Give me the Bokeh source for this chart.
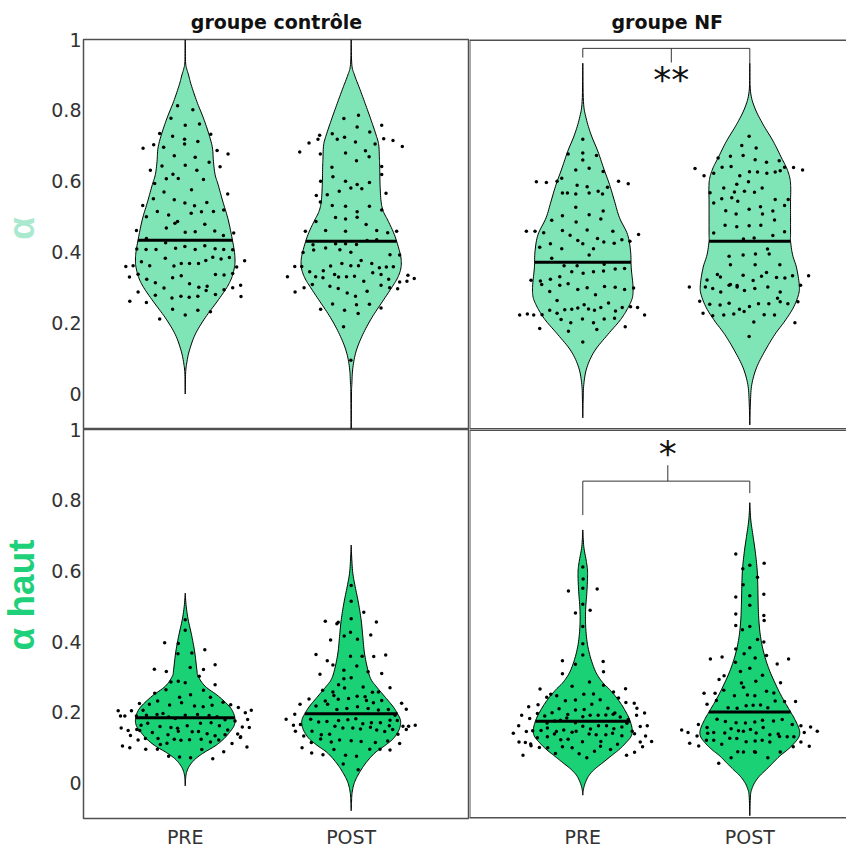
import numpy as np
from bokeh.plotting import figure
from bokeh.layouts import column, row
from bokeh.models import FixedTicker, Label, Span
from bokeh.core.properties import value
from bokeh.embed import file_html
from bokeh.resources import INLINE

# ---------------- data ----------------
groups = ["PRE", "POST"]
group_pos = [1, 2]
panel_titles = ["groupe contrôle", "groupe NF"]
row_labels = ["α", "α haut"]
y_ticks = [0, 0.2, 0.4, 0.6, 0.8, 1]
y_tick_labels = ["0", "0.2", "0.4", "0.6", "0.8", "1"]

# violin outlines: levels (descending) and half widths (x units)
ctrl_a_pre_lv = [0.999,0.938,0.919,0.900,0.872,0.825,0.778,0.731,0.694,0.656,0.619,0.591,0.544,0.497,0.450,0.403,0.375,0.356,0.328,0.300,0.262,0.215,0.168,0.121,0.084,0.055,0.0]
ctrl_a_pre_hw = [0,0.002,0.008,0.02,0.036,0.07,0.11,0.144,0.164,0.17,0.18,0.198,0.226,0.256,0.278,0.296,0.30,0.296,0.28,0.25,0.194,0.12,0.06,0.024,0.008,0.002,0]
ctrl_a_post_lv = [0.999,0.929,0.900,0.863,0.825,0.778,0.731,0.703,0.666,0.638,0.591,0.544,0.515,0.487,0.450,0.412,0.384,0.356,0.328,0.300,0.262,0.215,0.168,0.121,0.074,0.027,0.0,-0.12]
ctrl_a_post_hw = [0,0.004,0.02,0.05,0.08,0.116,0.15,0.166,0.17,0.172,0.174,0.18,0.194,0.224,0.26,0.286,0.30,0.30,0.28,0.244,0.19,0.124,0.07,0.03,0.01,0.004,0.002,0]
nf_a_pre_lv = [0.933,0.825,0.778,0.731,0.685,0.638,0.591,0.544,0.497,0.450,0.403,0.356,0.309,0.281,0.262,0.234,0.206,0.168,0.121,0.074,0.027,-0.020,-0.067]
nf_a_pre_hw = [0,0.004,0.02,0.05,0.09,0.124,0.16,0.19,0.22,0.268,0.286,0.29,0.30,0.30,0.29,0.26,0.22,0.15,0.07,0.024,0.006,0.002,0]
nf_a_post_lv = [0.933,0.854,0.807,0.760,0.713,0.666,0.638,0.609,0.581,0.544,0.497,0.450,0.431,0.393,0.356,0.309,0.281,0.243,0.206,0.168,0.121,0.074,0.027,-0.020,-0.087]
nf_a_post_hw = [0,0.004,0.03,0.08,0.14,0.19,0.22,0.24,0.245,0.244,0.244,0.244,0.244,0.256,0.28,0.296,0.292,0.26,0.21,0.15,0.09,0.04,0.012,0.004,0]
ctrl_h_pre_lv = [0.537,0.500,0.462,0.415,0.368,0.321,0.302,0.274,0.246,0.218,0.199,0.180,0.162,0.143,0.124,0.105,0.086,0.068,0.049,0.030,0.011,-0.008]
ctrl_h_pre_hw = [0,0.006,0.018,0.04,0.058,0.07,0.078,0.12,0.2,0.264,0.29,0.30,0.294,0.266,0.23,0.18,0.112,0.06,0.026,0.008,0.002,0]
ctrl_h_post_lv = [0.673,0.631,0.593,0.556,0.509,0.462,0.415,0.368,0.321,0.293,0.274,0.246,0.218,0.199,0.180,0.162,0.143,0.124,0.105,0.086,0.058,0.030,0.002,-0.026,-0.054,-0.078]
ctrl_h_post_hw = [0,0.004,0.01,0.024,0.044,0.06,0.07,0.08,0.1,0.12,0.15,0.2,0.25,0.276,0.296,0.296,0.28,0.25,0.2,0.144,0.09,0.05,0.02,0.006,0.002,0]
nf_h_pre_lv = [0.716,0.669,0.631,0.603,0.575,0.537,0.500,0.462,0.424,0.387,0.349,0.312,0.284,0.265,0.237,0.208,0.180,0.152,0.133,0.115,0.096,0.077,0.058,0.039,0.021,0.002,-0.017,-0.034]
nf_h_pre_hw = [0,0.006,0.02,0.028,0.028,0.024,0.018,0.016,0.02,0.03,0.05,0.08,0.12,0.16,0.21,0.25,0.28,0.296,0.29,0.26,0.22,0.17,0.12,0.07,0.036,0.016,0.004,0]
nf_h_post_lv = [0.793,0.744,0.697,0.650,0.603,0.556,0.509,0.462,0.415,0.368,0.321,0.274,0.237,0.208,0.180,0.152,0.133,0.115,0.096,0.077,0.058,0.039,0.021,0.002,-0.017,-0.036,-0.092]
nf_h_post_hw = [0,0.006,0.02,0.034,0.044,0.048,0.05,0.054,0.064,0.084,0.116,0.16,0.2,0.236,0.27,0.296,0.296,0.27,0.23,0.18,0.14,0.1,0.06,0.03,0.012,0.004,0]

# medians
ctrl_a_med = [0.434, 0.431]
nf_a_med = [0.372, 0.431]
ctrl_h_med = [0.185, 0.196]
nf_h_med = [0.175, 0.201]

# individual points: (horizontal jitter, value)
ctrl_a_pre_pts = [(-0.046,0.813),(0.046,0.802),(-0.086,0.778),(0,0.758),(0.086,0.762),(-0.154,0.735),(-0.076,0.727),(0.154,0.733),(-0.004,0.719),(-0.004,0.705),(0.076,0.712),(-0.19,0.703),(-0.254,0.693),(-0.13,0.696),(0.192,0.687),(0.258,0.677),(-0.066,0.672),(0.06,0.668),(0.144,0.654),(-0.21,0.631),(-0.14,0.643),(0,0.645),(0.07,0.631),(0.21,0.641),(-0.074,0.62),(-0.042,0.608),(-0.114,0.607),(0.11,0.605),(-0.184,0.594),(0.038,0.576),(-0.128,0.57),(0.256,0.564),(-0.192,0.551),(-0.066,0.548),(-0.002,0.539),(0.13,0.54),(-0.256,0.532),(0.056,0.531),(0.036,0.51),(0.098,0.514),(0.17,0.515),(-0.168,0.515),(-0.1,0.505),(-0.046,0.487),(-0.062,0.482),(-0.234,0.5),(0.118,0.479),(0.232,0.519),(-0.114,0.468),(0,0.456),(0.06,0.458),(0.178,0.46),(-0.294,0.461),(0.292,0.454),(0.23,0.447),(-0.234,0.439),(-0.118,0.427),(-0.292,0.409),(-0.236,0.408),(-0.176,0.408),(-0.058,0.411),(-0.002,0.416),(0.06,0.408),(0.118,0.418),(0.18,0.41),(0.232,0.408),(0.286,0.407),(-0.264,0.373),(-0.214,0.362),(-0.12,0.383),(-0.068,0.361),(-0.024,0.368),(0.026,0.368),(0.08,0.368),(0.124,0.377),(0.166,0.386),(0.216,0.381),(0.266,0.385),(0.358,0.376),(-0.358,0.36),(-0.314,0.362),(-0.284,0.338),(-0.232,0.324),(-0.18,0.314),(-0.128,0.299),(-0.076,0.328),(-0.024,0.334),(0.026,0.311),(0.082,0.301),(0.132,0.304),(0.182,0.337),(0.234,0.336),(0.286,0.34),(0.31,0.358),(-0.336,0.33),(-0.284,0.288),(-0.18,0.279),(-0.08,0.271),(-0.026,0.276),(0.024,0.273),(0.076,0.276),(0.126,0.292),(0.182,0.281),(0.234,0.294),(0.334,0.307),(-0.334,0.262),(-0.234,0.258),(-0.076,0.239),(0,0.223),(0.076,0.236),(0.152,0.232),(-0.154,0.212),(0.336,0.275),(0.286,0.3)]
ctrl_a_post_pts = [(-0.044,0.777),(0.044,0.786),(0.036,0.753),(0.112,0.739),(0.184,0.758),(-0.19,0.73),(-0.114,0.734),(-0.04,0.724),(-0.084,0.719),(0.026,0.711),(0.144,0.705),(0.196,0.72),(0.252,0.715),(0.308,0.698),(-0.254,0.708),(-0.2,0.719),(-0.186,0.677),(-0.034,0.68),(0.086,0.686),(0.108,0.669),(-0.31,0.683),(0.032,0.658),(-0.116,0.64),(0.184,0.642),(0.184,0.619),(-0.11,0.613),(-0.034,0.6),(0.036,0.591),(0.11,0.597),(0.064,0.579),(-0.002,0.581),(-0.184,0.6),(-0.072,0.572),(-0.144,0.562),(-0.21,0.56),(0.21,0.566),(-0.186,0.542),(-0.114,0.532),(-0.034,0.53),(0.11,0.53),(0.184,0.519),(-0.094,0.498),(-0.034,0.494),(0.036,0.514),(0.036,0.499),(-0.212,0.487),(-0.276,0.459),(-0.154,0.461),(-0.034,0.459),(0.09,0.478),(0.154,0.461),(0.22,0.455),(0.274,0.459),(-0.23,0.421),(-0.154,0.412),(-0.094,0.424),(-0.034,0.424),(0.032,0.422),(0.096,0.433),(0.154,0.435),(-0.002,0.4),(-0.29,0.399),(-0.226,0.406),(-0.068,0.407),(0.234,0.393),(0.292,0.392),(-0.34,0.36),(-0.298,0.36),(-0.25,0.345),(-0.168,0.348),(-0.124,0.361),(-0.056,0.368),(-0.002,0.362),(0.044,0.362),(0.06,0.377),(0.124,0.368),(0.17,0.356),(0.212,0.358),(0.254,0.359),(-0.384,0.331),(-0.214,0.331),(-0.17,0.328),(-0.1,0.337),(-0.076,0.33),(-0.028,0.331),(0.02,0.332),(0.076,0.318),(0.13,0.342),(0.18,0.337),(0.226,0.324),(0.292,0.316),(0.336,0.318),(0.342,0.335),(0.38,0.326),(-0.284,0.3),(-0.234,0.309),(-0.128,0.304),(-0.078,0.298),(-0.024,0.285),(0.026,0.276),(0.096,0.29),(0.18,0.307),(0.232,0.3),(0.28,0.297),(-0.338,0.288),(-0.112,0.254),(0.032,0.252),(0.11,0.253),(-0.184,0.239),(-0.04,0.236),(0.042,0.227),(0.18,0.243),(-0.046,0.19),(-0.002,0.095)]
nf_a_pre_pts = [(0,0.719),(-0.088,0.677),(0,0.68),(0.082,0.673),(-0.042,0.632),(0.038,0.637),(0.122,0.628),(0,0.66),(-0.278,0.599),(-0.218,0.597),(-0.154,0.6),(-0.126,0.609),(0.214,0.6),(0.272,0.593),(-0.122,0.567),(-0.092,0.567),(-0.034,0.589),(0.026,0.585),(-0.042,0.564),(0.038,0.567),(0.092,0.572),(0.118,0.564),(0.148,0.583),(-0.042,0.527),(-0.186,0.49),(-0.122,0.503),(0.038,0.506),(0.122,0.516),(0.108,0.494),(-0.04,0.485),(-0.338,0.459),(-0.286,0.459),(-0.234,0.455),(-0.122,0.461),(-0.076,0.448),(0.026,0.463),(0.088,0.439),(0.18,0.459),(0.334,0.45),(0.282,0.431),(-0.258,0.414),(-0.194,0.424),(-0.126,0.41),(-0.03,0.433),(0,0.424),(0.064,0.41),(0.126,0.429),(0.188,0.425),(0.234,0.435),(-0.186,0.383),(-0.112,0.362),(-0.034,0.362),(0.038,0.392),(0.128,0.366),(0.194,0.353),(-0.31,0.321),(-0.254,0.319),(-0.194,0.324),(-0.138,0.331),(-0.066,0.345),(0.002,0.341),(0.064,0.345),(0.124,0.347),(0.25,0.354),(0.304,0.299),(-0.246,0.309),(-0.138,0.307),(-0.088,0.311),(-0.03,0.295),(0.026,0.3),(0.076,0.28),(0.13,0.303),(0.194,0.301),(0.25,0.295),(-0.198,0.289),(-0.154,0.264),(-0.108,0.238),(-0.066,0.239),(-0.03,0.243),(0.008,0.252),(0.034,0.24),(0.07,0.236),(0.108,0.244),(0.154,0.257),(0.196,0.234),(0.236,0.244),(0.286,0.246),(0.328,0.244),(0.37,0.223),(-0.378,0.223),(-0.332,0.226),(-0.294,0.223),(-0.244,0.224),(-0.198,0.236),(-0.154,0.228),(-0.13,0.21),(-0.072,0.201),(-0.002,0.212),(0.064,0.201),(0.128,0.212),(0.19,0.214),(-0.258,0.185),(-0.086,0.177),(0.084,0.182),(0.254,0.19),(0,0.147)]
nf_a_post_pts = [(-0.004,0.727),(-0.048,0.701),(0.038,0.694),(-0.04,0.673),(-0.116,0.671),(-0.19,0.666),(0.032,0.661),(0.1,0.654),(0.176,0.658),(0.182,0.63),(-0.328,0.636),(-0.274,0.616),(-0.216,0.623),(-0.166,0.64),(-0.112,0.642),(-0.06,0.616),(-0.002,0.627),(0.046,0.626),(0.102,0.623),(0.152,0.626),(0.208,0.64),(0.262,0.639),(0.316,0.632),(-0.078,0.592),(-0.008,0.599),(-0.156,0.581),(-0.238,0.568),(-0.092,0.57),(-0.032,0.572),(0.028,0.569),(0.074,0.581),(0.152,0.549),(0.23,0.549),(-0.216,0.539),(-0.168,0.551),(-0.108,0.554),(-0.072,0.544),(-0.004,0.521),(0.064,0.528),(0.138,0.516),(0.208,0.532),(-0.144,0.517),(-0.082,0.508),(0.076,0.508),(0.148,0.491),(-0.148,0.476),(-0.078,0.472),(-0.004,0.475),(0.066,0.476),(-0.216,0.454),(0.208,0.458),(-0.038,0.437),(0.026,0.44),(0.138,0.447),(0.106,0.409),(0.116,0.395),(-0.124,0.389),(-0.04,0.392),(0.034,0.395),(-0.116,0.365),(0.032,0.365),(0.18,0.365),(-0.256,0.322),(-0.194,0.337),(-0.176,0.33),(-0.116,0.309),(-0.076,0.302),(-0.04,0.335),(0.02,0.32),(0.07,0.332),(0.1,0.343),(0.16,0.329),(0.21,0.327),(0.256,0.334),(0.352,0.334),(-0.362,0.302),(-0.266,0.302),(-0.222,0.298),(-0.174,0.288),(-0.124,0.307),(-0.076,0.306),(-0.032,0.292),(0.03,0.298),(0.108,0.302),(0.182,0.288),(0.304,0.307),(-0.3,0.262),(-0.24,0.253),(-0.178,0.251),(-0.124,0.256),(-0.062,0.239),(-0.034,0.233),(-0.002,0.247),(0.052,0.255),(0.114,0.255),(0.166,0.27),(0.182,0.26),(0.228,0.255),(0.288,0.26),(-0.28,0.228),(-0.222,0.221),(-0.156,0.223),(-0.096,0.226),(0.024,0.203),(0.086,0.224),(0.148,0.223),(0.27,0.201),(-0.004,0.162)]
ctrl_h_pre_pts = [(0,0.462),(0,0.432),(-0.124,0.397),(-0.042,0.395),(0.118,0.377),(-0.044,0.366),(0.04,0.368),(0.18,0.335),(-0.186,0.322),(-0.114,0.316),(0.03,0.327),(0.11,0.321),(-0.042,0.288),(-0.086,0.286),(0,0.284),(0.084,0.302),(0.18,0.278),(-0.184,0.254),(-0.116,0.264),(-0.034,0.243),(0.032,0.25),(0.11,0.263),(0.152,0.243),(-0.216,0.223),(-0.166,0.232),(-0.276,0.225),(-0.254,0.206),(-0.094,0.221),(-0.022,0.227),(0.056,0.218),(0.108,0.216),(0.162,0.22),(0.228,0.229),(0.274,0.222),(0.32,0.214),(0.362,0.199),(0.398,0.206),(-0.404,0.205),(-0.324,0.205),(-0.294,0.19),(-0.39,0.19),(-0.364,0.19),(-0.234,0.192),(-0.17,0.194),(-0.134,0.197),(-0.1,0.187),(-0.06,0.183),(0,0.192),(0.074,0.194),(0.144,0.191),(0.192,0.188),(0.24,0.179),(0.3,0.176),(0.376,0.18),(-0.386,0.156),(-0.344,0.149),(-0.292,0.152),(-0.266,0.164),(-0.226,0.169),(-0.152,0.16),(-0.086,0.157),(-0.046,0.155),(0.012,0.162),(0.092,0.169),(0.156,0.171),(0.206,0.162),(0.256,0.15),(0.344,0.159),(0.386,0.157),(-0.284,0.122),(-0.24,0.126),(-0.198,0.143),(-0.164,0.126),(-0.104,0.137),(-0.042,0.147),(0.042,0.145),(0.08,0.146),(0.132,0.14),(0.18,0.134),(0.24,0.137),(0.316,0.139),(0.332,0.129),(-0.33,0.135),(-0.274,0.149),(-0.15,0.109),(-0.11,0.113),(-0.066,0.124),(-0.026,0.121),(0.026,0.123),(0.096,0.124),(0.152,0.116),(0.202,0.122),(0.282,0.112),(0.334,0.131),(-0.378,0.105),(-0.334,0.1),(-0.238,0.096),(-0.168,0.096),(-0.1,0.076),(-0.034,0.074),(0.032,0.072),(0.1,0.095),(0.166,0.069),(0.232,0.089),(0.372,0.102)]
ctrl_h_post_pts = [(0,0.559),(0,0.514),(0,0.465),(-0.042,0.416),(0.038,0.407),(-0.004,0.427),(-0.078,0.455),(-0.156,0.458),(-0.086,0.451),(0.076,0.483),(0.152,0.456),(-0.124,0.405),(0.118,0.419),(-0.212,0.364),(-0.004,0.359),(0.066,0.359),(-0.144,0.346),(0.136,0.358),(0.208,0.362),(-0.044,0.319),(0.034,0.331),(-0.11,0.334),(-0.188,0.308),(0.102,0.315),(0.184,0.31),(-0.044,0.295),(0,0.298),(-0.076,0.278),(-0.04,0.269),(0.072,0.272),(-0.11,0.258),(-0.172,0.263),(0.036,0.246),(0.084,0.244),(0.128,0.257),(0.164,0.258),(0.234,0.27),(0.134,0.227),(0.184,0.234),(0.092,0.234),(-0.156,0.232),(-0.104,0.248),(-0.078,0.237),(-0.016,0.239),(-0.254,0.238),(-0.308,0.223),(0.304,0.226),(0.332,0.209),(-0.34,0.195),(-0.212,0.218),(-0.142,0.223),(-0.086,0.208),(-0.026,0.211),(0.038,0.216),(0.102,0.211),(0.164,0.207),(0.224,0.208),(0.264,0.192),(-0.392,0.181),(-0.348,0.164),(-0.306,0.166),(-0.244,0.181),(-0.196,0.173),(-0.146,0.174),(-0.076,0.177),(-0.02,0.179),(0.028,0.182),(0.07,0.168),(0.122,0.171),(0.176,0.171),(0.234,0.178),(0.278,0.177),(0.312,0.161),(0.346,0.161),(0.386,0.164),(-0.336,0.147),(-0.286,0.133),(-0.236,0.147),(-0.18,0.137),(-0.13,0.138),(-0.098,0.161),(-0.05,0.156),(0.01,0.156),(0.056,0.153),(0.116,0.158),(0.154,0.15),(0.202,0.146),(0.25,0.152),(0.282,0.138),(0.332,0.152),(0.23,0.162),(-0.24,0.115),(-0.184,0.125),(-0.12,0.116),(-0.07,0.122),(0,0.12),(0.06,0.118),(0.146,0.115),(0.22,0.119),(0.292,0.112),(-0.296,0.1),(-0.238,0.085),(-0.104,0.095),(-0.034,0.079),(0.032,0.076),(0.112,0.096),(0.174,0.096),(0.234,0.094),(-0.17,0.08),(-0.048,0.054),(0.042,0.038)]
nf_h_pre_pts = [(0,0.611),(0.002,0.577),(0,0.551),(-0.086,0.543),(0.086,0.549),(0,0.506),(-0.044,0.481),(0.044,0.489),(0,0.443),(0,0.394),(0,0.362),(-0.122,0.346),(0.122,0.344),(-0.044,0.336),(-0.122,0.309),(0.124,0.315),(0.04,0.286),(-0.064,0.274),(-0.256,0.266),(-0.192,0.251),(-0.216,0.243),(-0.156,0.247),(-0.104,0.233),(-0.044,0.235),(0.006,0.251),(0.064,0.252),(0.124,0.277),(0.184,0.258),(0.214,0.241),(0.256,0.267),(0.308,0.226),(-0.324,0.216),(-0.268,0.222),(-0.228,0.19),(-0.184,0.199),(-0.142,0.21),(-0.09,0.194),(-0.044,0.207),(0.008,0.208),(0.054,0.223),(0.104,0.236),(0.15,0.212),(0.192,0.198),(0.258,0.228),(0.324,0.212),(0.37,0.198),(-0.366,0.192),(-0.318,0.183),(-0.272,0.197),(-0.214,0.17),(-0.168,0.176),(-0.134,0.178),(-0.096,0.184),(-0.044,0.171),(0,0.188),(0.044,0.192),(0.092,0.192),(0.138,0.193),(0.182,0.195),(0.224,0.187),(0.272,0.18),(0.322,0.192),(-0.384,0.162),(-0.338,0.146),(-0.3,0.148),(-0.25,0.149),(-0.212,0.156),(-0.158,0.146),(-0.114,0.15),(-0.064,0.144),(0,0.161),(0.046,0.153),(0.094,0.162),(0.142,0.162),(0.186,0.154),(0.234,0.159),(0.264,0.169),(0.296,0.147),(0.344,0.16),(0.386,0.162),(-0.416,0.141),(-0.382,0.116),(-0.344,0.115),(-0.312,0.111),(-0.272,0.128),(-0.212,0.131),(-0.17,0.139),(-0.132,0.123),(-0.088,0.124),(-0.04,0.147),(-0.002,0.117),(0.038,0.139),(0.08,0.137),(0.108,0.118),(0.138,0.137),(0.178,0.141),(0.234,0.134),(0.31,0.14),(0.344,0.116),(0.376,0.133),(0.412,0.118),(-0.358,0.079),(-0.31,0.106),(-0.26,0.101),(-0.21,0.1),(-0.164,0.084),(-0.122,0.103),(-0.064,0.1),(-0.022,0.083),(0.024,0.072),(0.07,0.09),(0.106,0.104),(0.166,0.095),(0.208,0.11),(0.262,0.079),(0.31,0.087),(0.358,0.103)]
nf_h_post_pts = [(-0.084,0.648),(0,0.616),(0.046,0.582),(0.086,0.622),(-0.042,0.606),(-0.04,0.561),(-0.084,0.526),(0,0.53),(0,0.503),(0.084,0.534),(0.084,0.474),(0.086,0.46),(-0.084,0.478),(-0.084,0.446),(-0.044,0.434),(0,0.443),(0.046,0.406),(0.084,0.399),(-0.084,0.379),(-0.034,0.366),(0,0.383),(0.032,0.354),(0.1,0.361),(-0.236,0.351),(-0.166,0.357),(0.232,0.351),(0.164,0.337),(-0.086,0.342),(0,0.325),(-0.056,0.316),(0.076,0.305),(-0.154,0.304),(-0.184,0.293),(-0.05,0.283),(0.036,0.288),(0.184,0.284),(-0.156,0.263),(-0.038,0.271),(-0.274,0.254),(-0.208,0.254),(-0.092,0.247),(-0.014,0.249),(0.03,0.247),(0.1,0.26),(0.144,0.255),(0.208,0.231),(0.274,0.231),(-0.256,0.223),(-0.2,0.234),(-0.13,0.213),(-0.076,0.212),(-0.022,0.219),(0.02,0.22),(0.064,0.221),(0.108,0.213),(0.152,0.232),(-0.308,0.166),(-0.256,0.157),(-0.196,0.181),(-0.146,0.174),(-0.082,0.171),(-0.026,0.17),(0.03,0.173),(0.076,0.178),(0.142,0.176),(0.194,0.18),(0.254,0.166),(0.306,0.162),(0.364,0.159),(-0.408,0.15),(-0.37,0.143),(-0.316,0.133),(-0.252,0.141),(-0.216,0.143),(-0.15,0.142),(-0.112,0.154),(-0.068,0.148),(-0.038,0.147),(0.004,0.152),(0.038,0.142),(0.08,0.157),(0.12,0.137),(0.17,0.139),(0.224,0.131),(0.264,0.131),(0.326,0.143),(0.404,0.147),(-0.36,0.113),(-0.306,0.105),(-0.26,0.121),(-0.216,0.121),(-0.168,0.11),(-0.12,0.127),(-0.078,0.126),(-0.022,0.117),(0.032,0.119),(0.074,0.121),(0.12,0.116),(0.178,0.132),(0.26,0.103),(0.306,0.116),(0.356,0.104),(-0.186,0.056),(-0.112,0.072),(-0.072,0.089),(-0.038,0.088),(0.028,0.089),(0.034,0.087),(0.108,0.072),(0.182,0.088)]

# significance brackets
nf_a_bracket = dict(y=0.975, left_end=0.949, right_end=0.933, tick_x=1.53, tick_end=0.935, text="**", text_y=0.886)
nf_h_bracket = dict(y=0.854, left_end=0.758, right_end=0.820, tick_x=1.509, tick_end=0.899, text="*", text_y=0.931)

# ---------------- styling ----------------
FILL_A = "#7fe5b6"
FILL_H = "#1bd175"
LABEL_A = "#a8e9cf"
LABEL_H = "#1fd07a"
TICK_COLOR = "#333333"
FRAME_COLOR = "#505050"
Y_RANGE = (-0.1, 1.0)
XR_LEFT = (0.387, 2.713)
XR_RIGHT = (0.3216, 2.579)
OVERLAP = 12   # bottom row slides under the top row so its "1" tick label is not clipped


def smooth(lv, hw, n=8):
    P = np.column_stack([lv, hw]).astype(float)
    P = np.vstack([P[0], P, P[-1]])
    out = []
    for i in range(1, len(P) - 2):
        p0, p1, p2, p3 = P[i - 1], P[i], P[i + 1], P[i + 2]
        for t in np.linspace(0, 1, n, endpoint=False):
            t2 = t * t
            t3 = t2 * t
            out.append(0.5 * ((2 * p1) + (-p0 + p2) * t + (2 * p0 - 5 * p1 + 4 * p2 - p3) * t2
                              + (-p0 + 3 * p1 - 3 * p2 + p3) * t3))
    out.append(P[-2])
    out = np.array(out)
    return out[:, 0], np.clip(out[:, 1], 0, None)


def draw_violin(p, center, lv, hw, med, pts, fill):
    ys, hs = smooth(lv, hw)
    xs = np.concatenate([center + hs, (center - hs)[::-1]])
    yy = np.concatenate([ys, ys[::-1]])
    p.patch(xs, yy, fill_color=fill, line_color="black", line_width=1)
    order = np.argsort(ys)
    h = float(np.interp(med, ys[order], hs[order]))
    p.line([center - h, center + h], [med, med], line_color="black", line_width=3)
    jit = np.array([q[0] for q in pts])
    val = np.array([q[1] for q in pts])
    p.scatter(center + jit, val, size=3.5, color="black", line_color=None)


def draw_bracket(p, b):
    p.line([group_pos[0], group_pos[0], group_pos[1], group_pos[1]],
           [b["left_end"], b["y"], b["y"], b["right_end"]], line_color="#333333", line_width=1)
    p.line([b["tick_x"], b["tick_x"]], [b["y"], b["tick_end"]], line_color="#333333", line_width=1)
    p.add_layout(Label(x=b["tick_x"], y=b["text_y"], text=b["text"], text_align="center",
                       text_baseline="middle", text_font="DejaVu Sans", text_font_size="36px",
                       text_color="#111111"))


def base_fig(w, h, xr, left=0, top=0, bottom=0):
    p = figure(width=w, height=h, x_range=xr, y_range=Y_RANGE, output_backend="svg",
               toolbar_location=None, min_border_left=left, min_border_right=0,
               min_border_top=top, min_border_bottom=bottom)
    p.grid.visible = False
    p.background_fill_color = "white"
    p.border_fill_color = "white"
    return p


def style_y(p):
    ya = p.yaxis[0]
    ya.ticker = FixedTicker(ticks=y_ticks)
    ya.major_label_overrides = {t: s for t, s in zip(y_ticks, y_tick_labels)}
    ya.axis_line_color = None
    ya.major_tick_line_color = None
    ya.minor_tick_line_color = None
    ya.major_tick_out = 0
    ya.major_tick_in = 0
    ya.major_label_standoff = 2
    ya.major_label_text_font = "DejaVu Sans"
    ya.major_label_text_font_size = "19px"
    ya.major_label_text_color = TICK_COLOR


def style_x(p):
    xa = p.xaxis[0]
    xa.ticker = FixedTicker(ticks=group_pos)
    xa.major_label_overrides = {t: s for t, s in zip(group_pos, groups)}
    xa.axis_line_color = None
    xa.major_tick_line_color = None
    xa.minor_tick_line_color = None
    xa.major_tick_out = 0
    xa.major_tick_in = 0
    xa.major_label_standoff = 7
    xa.major_label_text_font = "DejaVu Sans"
    xa.major_label_text_font_size = "19px"
    xa.major_label_text_color = TICK_COLOR


# row-label columns
lab_top = base_fig(48, 429, (0, 48), top=39)
lab_bot = base_fig(48, 421 + OVERLAP, (0, 48), top=OVERLAP, bottom=31)
for lp in (lab_top, lab_bot):
    lp.axis.visible = False
    lp.outline_line_color = None
lab_top.text(x=[21], y=[0.467], text=[row_labels[0]], angle=np.pi / 2, text_align="center",
             text_baseline="middle", text_font=value("Liberation Sans"),
             text_font_style=value("bold"), text_font_size=value("37px"), text_color=LABEL_A)
lab_bot.text(x=[21], y=[0.532], text=[row_labels[1]], angle=np.pi / 2, text_align="center",
             text_baseline="middle", text_font=value("Liberation Sans"),
             text_font_style=value("bold"), text_font_size=value("37px"), text_color=LABEL_H)

tl = base_fig(421, 429, XR_LEFT, left=33, top=39)
tr = base_fig(377, 429, XR_RIGHT, top=39)
bl = base_fig(421, 421 + OVERLAP, XR_LEFT, left=33, top=OVERLAP, bottom=31)
br = base_fig(377, 421 + OVERLAP, XR_RIGHT, top=OVERLAP, bottom=31)
for p in (lab_bot, bl, br):
    p.border_fill_alpha = 0

style_y(tl)
style_y(bl)
tl.xaxis.visible = False
tr.xaxis.visible = False
tr.yaxis.visible = False
br.yaxis.visible = False
style_x(bl)
style_x(br)

for p in (tl, bl):
    p.outline_line_color = FRAME_COLOR
    p.outline_line_width = 1.5
tr.outline_line_color = None
br.outline_line_color = None
tr.add_layout(Span(location=XR_RIGHT[0], dimension="height", line_color=FRAME_COLOR, line_width=2))
tr.add_layout(Span(location=Y_RANGE[1], dimension="width", line_color=FRAME_COLOR, line_width=3))
tr.add_layout(Span(location=Y_RANGE[0], dimension="width", line_color=FRAME_COLOR, line_width=3))
br.add_layout(Span(location=XR_RIGHT[0], dimension="height", line_color=FRAME_COLOR, line_width=2))
br.add_layout(Span(location=Y_RANGE[1], dimension="width", line_color=FRAME_COLOR, line_width=3))
br.add_layout(Span(location=Y_RANGE[0], dimension="width", line_color=FRAME_COLOR, line_width=3))

# titles: left one centred on its panel, right one placed from the panel's left edge
tl.title.text = panel_titles[0]
tl.title.align = "center"
tr.title.text = panel_titles[1]
tr.title.align = "left"
tr.title.offset = 142
for p in (tl, tr):
    p.title.standoff = 14
    p.title.text_font = "DejaVu Sans"
    p.title.text_font_size = "19px"
    p.title.text_font_style = "bold"
    p.title.text_color = "#111111"

panels = [
    (tl, [(ctrl_a_pre_lv, ctrl_a_pre_hw, ctrl_a_pre_pts), (ctrl_a_post_lv, ctrl_a_post_hw, ctrl_a_post_pts)], ctrl_a_med, FILL_A),
    (tr, [(nf_a_pre_lv, nf_a_pre_hw, nf_a_pre_pts), (nf_a_post_lv, nf_a_post_hw, nf_a_post_pts)], nf_a_med, FILL_A),
    (bl, [(ctrl_h_pre_lv, ctrl_h_pre_hw, ctrl_h_pre_pts), (ctrl_h_post_lv, ctrl_h_post_hw, ctrl_h_post_pts)], ctrl_h_med, FILL_H),
    (br, [(nf_h_pre_lv, nf_h_pre_hw, nf_h_pre_pts), (nf_h_post_lv, nf_h_post_hw, nf_h_post_pts)], nf_h_med, FILL_H),
]
for p, vios, meds, fill in panels:
    for c, (lv, hw, pts), m in zip(group_pos, vios, meds):
        draw_violin(p, c, lv, hw, m, pts, fill)

draw_bracket(tr, nf_a_bracket)
draw_bracket(br, nf_h_bracket)

top_row = row(lab_top, tl, tr, spacing=0)
bottom_row = row(lab_bot, bl, br, spacing=0, margin=(-OVERLAP, 0, 0, 0))
layout = column(top_row, bottom_row, spacing=0)
open("out.html", "w").write(file_html(layout, INLINE))
